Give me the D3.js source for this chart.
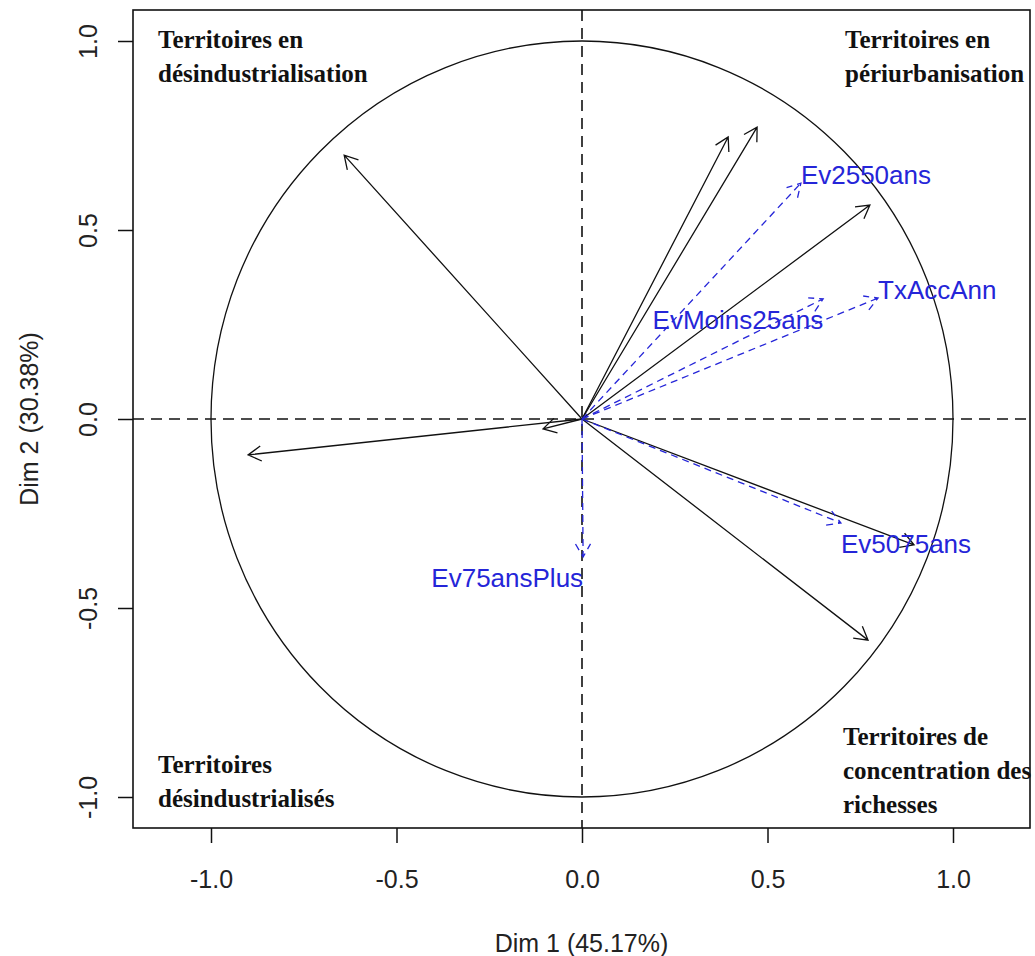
<!DOCTYPE html>
<html>
<head>
<meta charset="utf-8">
<script src="https://cdnjs.cloudflare.com/ajax/libs/d3/7.8.5/d3.min.js"></script>
<style>
    body { margin: 0; background: #fff; }
    .tick text { font-family: "Liberation Sans", Arial, sans-serif; font-size: 25px; fill: #222; }
    .axis-title { font-family: "Liberation Sans", Arial, sans-serif; font-size: 25px; fill: #222; }
    .var-label { font-family: "Liberation Sans", Arial, sans-serif; font-size: 26px; fill: #2525d8; }
    .quad-label { font-family: "Liberation Serif", "Times New Roman", serif; font-size: 25px; font-weight: bold; fill: #111; }
</style>
</head>
<body>
<div id="chart"></div>
<script>
// active variables (black arrows, no labels)
var activeX = [-0.641, -0.900, -0.105, 0.394, 0.472, 0.776, 0.771, 0.895];
var activeY = [0.698, -0.095, -0.026, 0.746, 0.772, 0.566, -0.585, -0.333];

// supplementary variables (blue dashed arrows)
var suppNames = ["Ev2550ans", "TxAccAnn", "EvMoins25ans", "Ev5075ans", "Ev75ansPlus"];
var suppX = [0.590, 0.798, 0.650, 0.698, 0.003];
var suppY = [0.624, 0.320, 0.318, -0.275, -0.365];
var suppSide = ["ne", "ne", "sw", "se", "sw"];

var tickValues = [-1.0, -0.5, 0.0, 0.5, 1.0];
var xTitle = "Dim 1 (45.17%)";
var yTitle = "Dim 2 (30.38%)";

// quadrant captions
var quadTopLeft = ["Territoires en", "désindustrialisation"];
var quadTopRight = ["Territoires en", "périurbanisation"];
var quadBottomLeft = ["Territoires", "désindustrialisés"];
var quadBottomRight = ["Territoires de", "concentration des", "richesses"];

var width = 1035, height = 956;
var box = {left: 133, right: 1030, top: 10, bottom: 828};

var x = d3.scaleLinear().domain([-1, 1]).range([211, 953]);
var y = d3.scaleLinear().domain([-1, 1]).range([797, 41]);

// R style labels: plain hyphen for negatives
var fmt = function(d) { return d3.format(".1f")(d).replace("\u2212", "-"); };

var svg = d3.select("#chart").append("svg")
    .attr("width", width)
    .attr("height", height);

// * axes
var xAxis = d3.axisBottom(x)
    .tickValues(tickValues)
    .tickFormat(fmt)
    .tickSize(15)
    .tickPadding(27);

var gx = svg.append("g")
    .attr("transform", "translate(0," + box.bottom + ")")
    .call(xAxis);
gx.select(".domain").remove();
gx.selectAll(".tick line").attr("stroke", "#111").attr("stroke-width", 1.5);

var yAxis = d3.axisLeft(y)
    .tickValues(tickValues)
    .tickFormat(fmt)
    .tickSize(15);

var gy = svg.append("g")
    .attr("transform", "translate(" + box.left + ",0)")
    .call(yAxis);
gy.select(".domain").remove();
gy.selectAll(".tick line").attr("stroke", "#111").attr("stroke-width", 1.5);
gy.selectAll(".tick text")
    .attr("transform", "rotate(-90)")
    .attr("x", 0)
    .attr("y", -36)
    .attr("dy", 0)
    .attr("text-anchor", "middle");

svg.append("text")
    .attr("class", "axis-title")
    .attr("x", (box.left + box.right) / 2)
    .attr("y", 952)
    .attr("text-anchor", "middle")
    .text(xTitle);

svg.append("text")
    .attr("class", "axis-title")
    .attr("transform", "translate(38," + y(0) + ") rotate(-90)")
    .attr("text-anchor", "middle")
    .text(yTitle);

// * unit circle
svg.append("ellipse")
    .attr("cx", x(0))
    .attr("cy", y(0))
    .attr("rx", x(1) - x(0))
    .attr("ry", y(0) - y(1))
    .attr("fill", "none")
    .attr("stroke", "#111")
    .attr("stroke-width", 1.3);

// dashed zero lines
svg.append("line")
    .attr("x1", box.left).attr("x2", box.right)
    .attr("y1", y(0)).attr("y2", y(0))
    .attr("stroke", "#111").attr("stroke-width", 1.6)
    .attr("stroke-dasharray", "11,7");

svg.append("line")
    .attr("x1", x(0)).attr("x2", x(0))
    .attr("y1", box.top).attr("y2", box.bottom)
    .attr("stroke", "#111").attr("stroke-width", 1.6)
    .attr("stroke-dasharray", "11,7");

// arrow path: shaft + open V head
function arrowPath(px, py) {
    var x0 = x(0), y0 = y(0);
    var x1 = x(px), y1 = y(py);
    var a = Math.atan2(y1 - y0, x1 - x0);
    var len = 15, spread = Math.PI / 6;
    var h1x = x1 - len * Math.cos(a - spread), h1y = y1 - len * Math.sin(a - spread);
    var h2x = x1 - len * Math.cos(a + spread), h2y = y1 - len * Math.sin(a + spread);
    return "M" + x0 + "," + y0 + "L" + x1 + "," + y1 +
        "M" + h1x + "," + h1y + "L" + x1 + "," + y1 + "L" + h2x + "," + h2y;
}

var activeData = activeX.map(function(d, i) { return {x: d, y: activeY[i]}; });
var suppData = suppNames.map(function(d, i) {
    return {name: d, x: suppX[i], y: suppY[i], side: suppSide[i]};
});

svg.selectAll(".active-arrow")
    .data(activeData)
    .enter()
    .append("path")
    .attr("class", "active-arrow")
    .attr("d", function(d) { return arrowPath(d.x, d.y); })
    .attr("fill", "none")
    .attr("stroke", "#111")
    .attr("stroke-width", 1.3);

svg.selectAll(".supp-arrow")
    .data(suppData)
    .enter()
    .append("path")
    .attr("class", "supp-arrow")
    .attr("d", function(d) { return arrowPath(d.x, d.y); })
    .attr("fill", "none")
    .attr("stroke", "#2525d8")
    .attr("stroke-width", 1.3)
    .attr("stroke-dasharray", "7,5");

svg.selectAll(".var-label")
    .data(suppData)
    .enter()
    .append("text")
    .attr("class", "var-label")
    .attr("x", function(d) { return x(d.x); })
    .attr("y", function(d) {
        if (d.side === "ne") return y(d.y) + 1;
        return y(d.y) + 30;
    })
    .attr("text-anchor", function(d) { return d.side === "sw" ? "end" : "start"; })
    .text(function(d) { return d.name; });

// * quadrant captions
function addCaption(lines, left, firstBaseline) {
    svg.append("text")
        .attr("class", "quad-label")
        .selectAll("tspan")
        .data(lines)
        .enter()
        .append("tspan")
        .attr("x", left)
        .attr("y", function(d, i) { return firstBaseline + i * 34; })
        .text(function(d) { return d; });
}

addCaption(quadTopLeft, 158, 48);
addCaption(quadTopRight, 845, 48);
addCaption(quadBottomLeft, 158, 773);
addCaption(quadBottomRight, 843, 745);

// plot frame
svg.append("rect")
    .attr("x", box.left)
    .attr("y", box.top)
    .attr("width", box.right - box.left)
    .attr("height", box.bottom - box.top)
    .attr("fill", "none")
    .attr("stroke", "#111")
    .attr("stroke-width", 1.6);
</script>
</body>
</html>
